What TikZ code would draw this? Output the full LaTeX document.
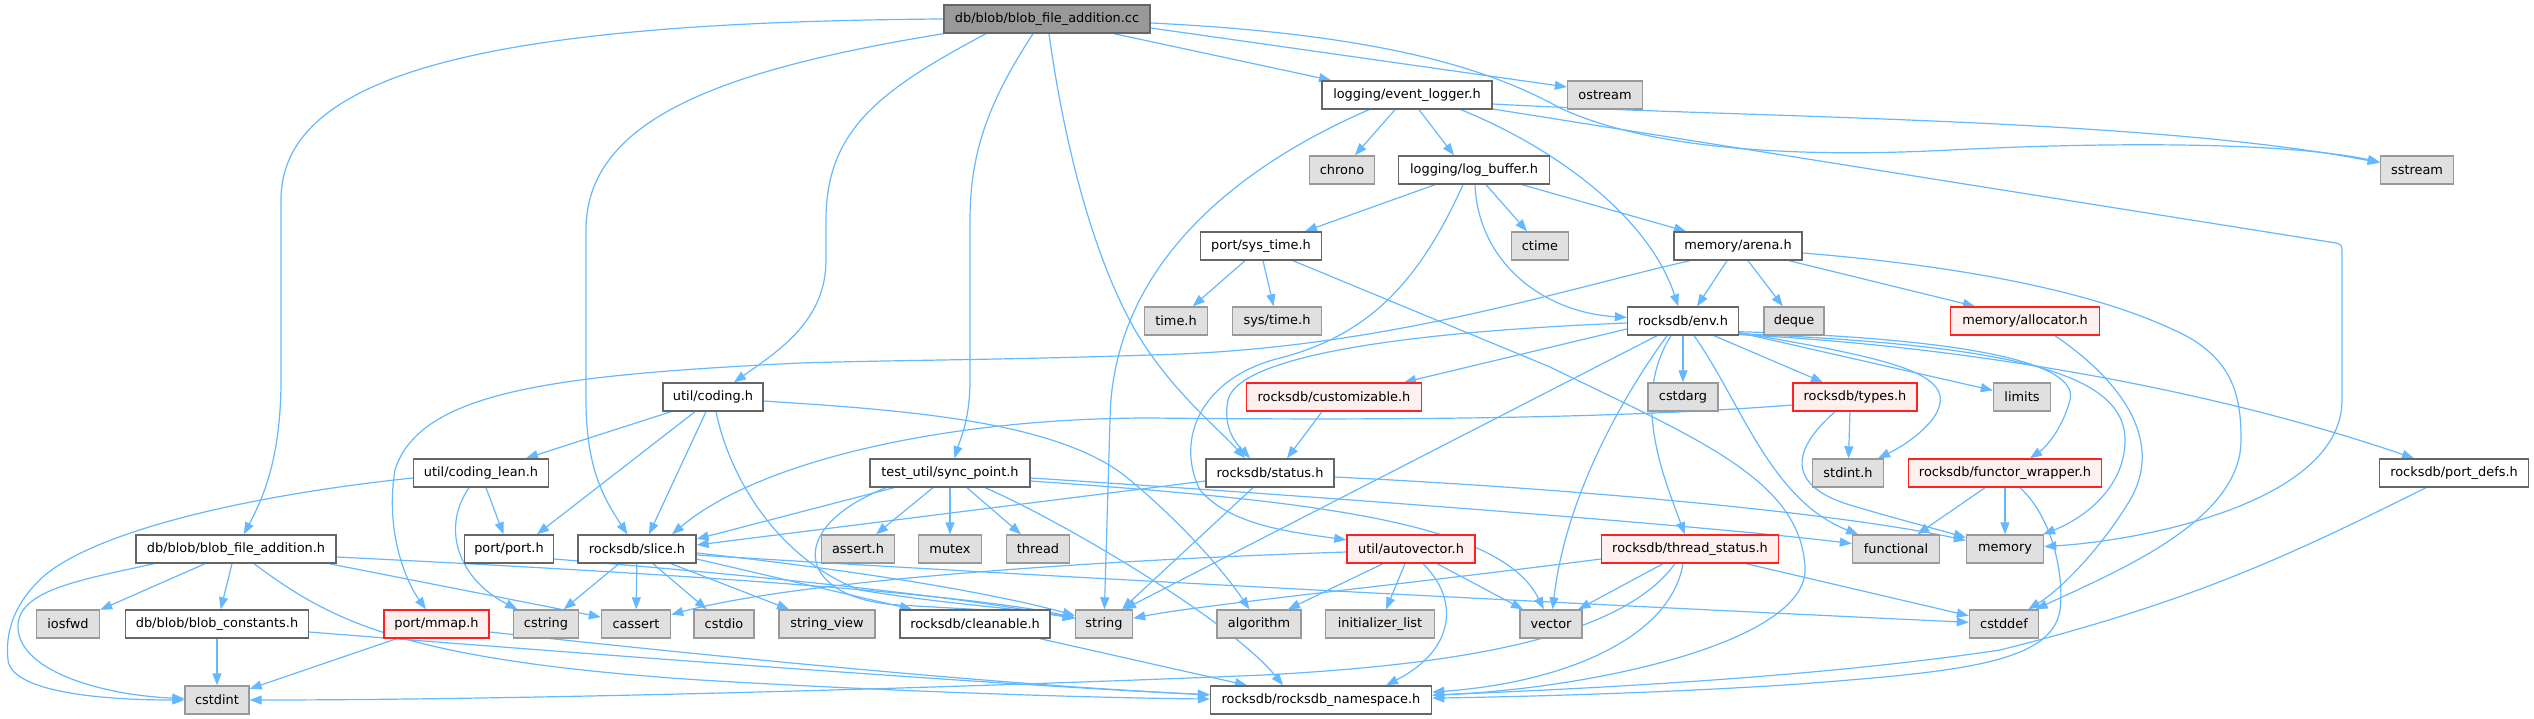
\documentclass[tikz,border=0pt]{standalone}
\usepackage{fontspec}
\setmainfont{DejaVu Sans}
\usetikzlibrary{arrows.meta,calc,backgrounds}
\definecolor{edgec}{HTML}{63B8FF}
\definecolor{gfill}{HTML}{E0E0E0}
\definecolor{gdraw}{HTML}{999999}
\definecolor{wdraw}{HTML}{666666}
\definecolor{rfill}{HTML}{FFF0F0}
\definecolor{rdraw}{HTML}{FF2020}
\definecolor{rootfill}{HTML}{999999}
\tikzset{
  base/.style={draw, line width=1.4pt, minimum height=28pt, inner sep=0pt, font=\fontsize{12.9}{15}\selectfont},
  wn/.style={base, fill=white, draw=wdraw},
  gn/.style={base, fill=gfill, draw=gdraw},
  rn/.style={base, fill=rfill, draw=rdraw},
  rootn/.style={base, fill=rootfill, draw=wdraw},
  e/.style={draw=edgec, line width=1.2pt, -{Triangle[length=12pt,width=9pt]}},
}
\begin{document}
\begin{tikzpicture}[x=1pt,y=-1pt]
\useasboundingbox (0,0) rectangle (2534,719);
% nodes
\node[rootn, minimum width=206pt] (root) at (1047,19) {db/blob/blob\_file\_addition.cc};
\node[wn, minimum width=170pt] (evl) at (1407,95) {logging/event\_logger.h};
\node[gn, minimum width=75pt] (ostream) at (1605,95) {ostream};
\node[gn, minimum width=65pt] (chrono) at (1342,170) {chrono};
\node[wn, minimum width=151pt] (logbuf) at (1474,170) {logging/log\_buffer.h};
\node[gn, minimum width=73pt] (sstream) at (2417,170) {sstream};
\node[wn, minimum width=121pt] (systime) at (1261,246) {port/sys\_time.h};
\node[gn, minimum width=57pt] (ctime) at (1540,246) {ctime};
\node[wn, minimum width=128pt] (arena) at (1738,246) {memory/arena.h};
\node[gn, minimum width=63pt] (timeh) at (1176,321) {time.h};
\node[gn, minimum width=89pt] (systimeh) at (1277,321) {sys/time.h};
\node[wn, minimum width=111pt] (env) at (1683,321) {rocksdb/env.h};
\node[gn, minimum width=60pt] (deque) at (1794,321) {deque};
\node[rn, minimum width=149pt] (alloc) at (2025,321) {memory/allocator.h};
\node[wn, minimum width=100pt] (coding) at (713,397) {util/coding.h};
\node[rn, minimum width=175pt] (custom) at (1334,397) {rocksdb/customizable.h};
\node[gn, minimum width=70pt] (cstdarg) at (1683,397) {cstdarg};
\node[rn, minimum width=124pt] (types) at (1855,397) {rocksdb/types.h};
\node[gn, minimum width=57pt] (limits) at (2022,397) {limits};
\node[wn, minimum width=135pt] (codlean) at (481,473) {util/coding\_lean.h};
\node[wn, minimum width=160pt] (sync) at (950,473) {test\_util/sync\_point.h};
\node[wn, minimum width=128pt] (status) at (1270,473) {rocksdb/status.h};
\node[gn, minimum width=71pt] (stdint) at (1848,473) {stdint.h};
\node[rn, minimum width=193pt] (functor) at (2005,473) {rocksdb/functor\_wrapper.h};
\node[wn, minimum width=149pt] (portdefs) at (2454,473) {rocksdb/port\_defs.h};
\node[wn, minimum width=200pt] (blobh) at (236,549) {db/blob/blob\_file\_addition.h};
\node[wn, minimum width=89pt] (portport) at (509,549) {port/port.h};
\node[wn, minimum width=118pt] (slice) at (637,549) {rocksdb/slice.h};
\node[gn, minimum width=73pt] (asserth) at (858,549) {assert.h};
\node[gn, minimum width=63pt] (mutex) at (950,549) {mutex};
\node[gn, minimum width=63pt] (thread) at (1038,549) {thread};
\node[rn, minimum width=128pt] (autovec) at (1411,549) {util/autovector.h};
\node[rn, minimum width=177pt] (thstat) at (1690,549) {rocksdb/thread\_status.h};
\node[gn, minimum width=87pt] (functional) at (1896,549) {functional};
\node[gn, minimum width=77pt] (memory) at (2005,549) {memory};
\node[gn, minimum width=63pt] (iosfwd) at (68,624) {iosfwd};
\node[wn, minimum width=183pt] (blobconst) at (217,624) {db/blob/blob\_constants.h};
\node[rn, minimum width=105pt] (mmap) at (436.5,624) {port/mmap.h};
\node[gn, minimum width=65pt] (cstring) at (546,624) {cstring};
\node[gn, minimum width=69pt] (cassert) at (636,624) {cassert};
\node[gn, minimum width=60pt] (cstdio) at (724,624) {cstdio};
\node[gn, minimum width=96pt] (strview) at (827,624) {string\_view};
\node[wn, minimum width=150pt] (cleanable) at (975,624) {rocksdb/cleanable.h};
\node[gn, minimum width=57pt] (string) at (1104,624) {string};
\node[gn, minimum width=84pt] (algorithm) at (1259,624) {algorithm};
\node[gn, minimum width=109pt] (initlist) at (1380,624) {initializer\_list};
\node[gn, minimum width=62pt] (vector) at (1551,624) {vector};
\node[gn, minimum width=69pt] (cstddef) at (2004,624) {cstddef};
\node[gn, minimum width=64pt] (cstdint) at (217,700) {cstdint};
\node[wn, minimum width=221pt] (ns) at (1321,700) {rocksdb/rocksdb\_namespace.h};
\begin{pgfonlayer}{background}
% root
\draw[e] (root.west) .. controls (500,22) and (281,70) .. (281,200) -- (281,380) .. controls (281,460) and (262,500) .. (blobh);
\draw[e] (root.south west) .. controls (720,70) and (586,120) .. (586,230) -- (586,400) .. controls (586,470) and (605,500) .. (slice);
\draw[e] ([xshift=-61]root.south) .. controls (880,90) and (826,130) .. (826,220) -- (826,260) .. controls (826,320) and (780,350) .. (coding);
\draw[e] ([xshift=-14]root.south) .. controls (990,100) and (970,150) .. (970,220) -- (970,380) .. controls (970,420) and (960,440) .. (sync);
\draw[e] ([xshift=2]root.south) .. controls (1065,150) and (1095,260) .. (1135,330) .. controls (1170,390) and (1220,430) .. ([xshift=-25]status.north);
\draw[e] ([xshift=67]root.south) -- ([xshift=-76]evl.north);
\draw[e] ([yshift=-9]root.east) -- ([yshift=8]ostream.west);
\draw[e] ([yshift=-4]root.east) .. controls (1400,35) and (1500,75) .. (1560,108) .. controls (1650,150) and (1800,158) .. (1950,150) .. controls (2150,140) and (2300,145) .. (sstream);
% event logger
\draw[e] ([xshift=-12]evl.south) -- (chrono);
\draw[e] ([xshift=12]evl.south) -- ([xshift=-20]logbuf.north);
\draw[e] ([xshift=-38]evl.south) .. controls (1230,170) and (1112,270) .. (1110,420) -- (string);
\draw[e] ([xshift=54]evl.south) .. controls (1560,150) and (1650,220) .. (env);
\draw[e] ([yshift=-9]evl.east) .. controls (1750,118) and (2150,118) .. (sstream);
\draw[e] ([yshift=-14]evl.east) -- (2336,243) .. controls (2342,245) .. (2342,255) -- (2342,400) .. controls (2342,500) and (2150,540) .. (memory);
% log buffer
\draw[e] ([xshift=-39]logbuf.south) -- ([xshift=44]systime.north);
\draw[e] ([xshift=-11]logbuf.south) .. controls (1420,280) and (1370,335) .. (1280,358) .. controls (1200,378) and (1175,440) .. (1200,490) .. controls (1230,525) and (1290,532) .. (autovec);
\draw[e] ([xshift=1]logbuf.south) .. controls (1478,260) and (1540,312) .. (env);
\draw[e] ([xshift=12]logbuf.south) -- (ctime);
\draw[e] ([xshift=48]logbuf.south) -- ([xshift=-52]arena.north);
% sys_time
\draw[e] ([xshift=-16]systime.south) -- (timeh);
\draw[e] ([xshift=2]systime.south) -- (systimeh);
\draw[e] ([xshift=32]systime.south) -- (1550,367) .. controls (1700,440) and (1800,480) .. (1805,567) .. controls (1810,640) and (1600,688) .. (ns);
% arena
\draw[e] ([xshift=-11]arena.south) -- ([xshift=14]env.north);
\draw[e] ([xshift=10]arena.south) -- (deque);
\draw[e] ([xshift=51]arena.south) -- ([xshift=-50]alloc.north);
\draw[e] ([yshift=-7]arena.east) .. controls (1950,265) and (2100,290) .. (2190,338) .. controls (2235,365) and (2241,400) .. (2241,440) .. controls (2241,520) and (2120,570) .. (cstddef);
\draw[e] ([xshift=-48]arena.south) .. controls (1560,290) and (1380,350) .. (1150,355) .. controls (1000,360) and (900,360) .. (800,363) .. controls (560,375) and (420,390) .. (395,470) .. controls (385,530) and (405,580) .. (mmap);
% env
\draw[e] ([yshift=-8]env.west) -- ([xshift=70]custom.north);
\draw[e] ([yshift=-2]env.west) .. controls (1450,330) and (1240,350) .. (1228,400) .. controls (1222,430) and (1238,445) .. ([xshift=-20]status.north);
\draw[e] ([xshift=-26]env.south) -- ([xshift=20]string.north);
\draw[e] ([xshift=-16]env.south) .. controls (1620,400) and (1565,500) .. (vector);
\draw[e] ([xshift=-12]env.south) .. controls (1630,400) and (1665,480) .. (thstat);
\draw[e] (env) -- (cstdarg);
\draw[e] ([xshift=11]env.south) .. controls (1740,400) and (1770,500) .. (functional);
\draw[e] ([xshift=31]env.south) -- ([xshift=-32]types.north);
\draw[e] ([yshift=3]env.south east) -- (limits);
\draw[e] ([yshift=3]env.south east) .. controls (1900,360) and (1965,375) .. (1932,420) .. controls (1915,440) and (1895,450) .. (stdint);
\draw[e] ([yshift=4]env.south east) .. controls (1950,338) and (2080,360) .. (2070,400) .. controls (2062,430) and (2045,448) .. ([xshift=25]functor.north);
\draw[e] ([yshift=2]env.south east) .. controls (2000,345) and (2125,370) .. (2125,440) .. controls (2125,490) and (2080,520) .. (memory);
\draw[e] ([yshift=1]env.south east) .. controls (1950,345) and (2200,385) .. ([xshift=-40]portdefs.north);
% allocator, customizable
\draw[e] ([xshift=30]alloc.south) .. controls (2120,380) and (2165,440) .. (2130,500) .. controls (2100,550) and (2060,590) .. (cstddef);
\draw[e] ([xshift=-12]custom.south) -- ([xshift=17]status.north);
% types
\draw[e] ([yshift=-8]types.west) .. controls (1600,420) and (1350,420) .. (1150,418) .. controls (950,418) and (760,460) .. ([xshift=35]slice.north);
\draw[e] ([xshift=-5]types.south) -- (stdint);
\draw[e] ([xshift=-20]types.south) .. controls (1780,460) and (1800,490) .. (1850,505) .. controls (1900,520) and (1940,530) .. (memory);
% functor wrapper
\draw[e] ([xshift=-20]functor.south) -- (functional);
\draw[e] (functor) -- (memory);
\draw[e] ([xshift=15]functor.south) .. controls (2055,520) and (2064,580) .. (2060,610) .. controls (2052,665) and (1950,672) .. (1800,684) .. controls (1650,694) and (1500,697) .. (ns);
% port_defs
\draw[e] ([xshift=-28]portdefs.south) .. controls (2300,550) and (2200,600) .. (2000,650) .. controls (1800,680) and (1550,690) .. (ns);
% status
\draw[e] ([yshift=-8]status.west) -- ([yshift=4]slice.east);
\draw[e] ([xshift=-17]status.south) -- ([xshift=18]string.north);
\draw[e] ([yshift=-4]status.east) .. controls (1600,490) and (1850,515) .. (memory);
% sync point
\draw[e] ([xshift=-56]sync.south) -- ([yshift=10]slice.east);
\draw[e] ([xshift=-17]sync.south) -- (asserth);
\draw[e] (sync) -- (mutex);
\draw[e] ([xshift=17]sync.south) -- (thread);
\draw[e] ([xshift=-64]sync.south) .. controls (780,530) and (800,600) .. (900,605) .. controls (980,610) and (1040,612) .. (string);
\draw[e] ([yshift=-5]sync.east) .. controls (1300,495) and (1700,525) .. (functional);
\draw[e] ([yshift=-8]sync.east) .. controls (1300,500) and (1500,520) .. (vector);
\draw[e] ([xshift=35]sync.south) .. controls (1060,520) and (1230,620) .. ([xshift=-38]ns.north);
% slice
\draw[e] ([xshift=-18]slice.south) -- (cstring);
\draw[e] (slice) -- (cassert);
\draw[e] ([xshift=16]slice.south) -- (cstdio);
\draw[e] ([xshift=34]slice.south) -- (strview);
\draw[e] ([yshift=-10]slice.east) -- (cleanable);
\draw[e] ([yshift=-4]slice.east) .. controls (900,575) and (1020,600) .. (string);
\draw[e] ([yshift=-6]slice.east) .. controls (1100,580) and (1600,605) .. (cstddef);
% cleanable
\draw[e] ([xshift=65]cleanable.south) -- ([xshift=-74]ns.north);
% autovector
\draw[e] ([yshift=-3]autovec.west) .. controls (1100,560) and (800,580) .. (cassert);
\draw[e] ([xshift=-28]autovec.south) -- ([xshift=29]algorithm.north);
\draw[e] ([xshift=-6]autovec.south) -- (initlist);
\draw[e] ([xshift=26]autovec.south) -- ([xshift=-28]vector.north);
\draw[e] ([xshift=12]autovec.south) .. controls (1460,600) and (1455,650) .. ([xshift=65]ns.north);
% thread status
\draw[e] ([yshift=-10]thstat.west) .. controls (1400,585) and (1200,605) .. (string);
\draw[e] ([xshift=-27]thstat.south) -- (vector);
\draw[e] ([xshift=56]thstat.south) -- (cstddef);
\draw[e] ([xshift=-7]thstat.south) .. controls (1670,640) and (1560,683) .. (ns);
\draw[e] ([xshift=-15]thstat.south) .. controls (1620,640) and (1450,665) .. (1264,675) .. controls (900,690) and (500,700) .. (cstdint);
% blob_file_addition.h
\draw[e] ([xshift=-82]blobh.south) .. controls (80,580) and (20,590) .. (18,625) .. controls (16,670) and (100,695) .. (cstdint);
\draw[e] ([xshift=-31]blobh.south) -- (iosfwd);
\draw[e] ([xshift=-4]blobh.south) -- (blobconst);
\draw[e] ([xshift=18]blobh.south) .. controls (330,620) and (400,660) .. (700,680) .. controls (900,692) and (1100,698) .. (ns);
\draw[e] ([xshift=93]blobh.south) -- (cassert);
\draw[e] ([yshift=-8]blobh.east) .. controls (600,570) and (950,590) .. (string);
% coding_lean
\draw[e] ([yshift=-5]codlean.west) .. controls (250,495) and (100,530) .. (45,575) .. controls (8,608) and (6,640) .. (8,660) .. controls (12,692) and (100,700) .. (cstdint);
\draw[e] ([xshift=-12]codlean.south) .. controls (440,530) and (460,580) .. (cstring);
\draw[e] ([xshift=5]codlean.south) -- (portport);
% coding
\draw[e] ([xshift=-42]coding.south) -- ([xshift=45]codlean.north);
\draw[e] ([xshift=-18]coding.south) -- ([xshift=28]portport.north);
\draw[e] ([xshift=-7]coding.south) -- ([xshift=12]slice.north);
\draw[e] ([xshift=3]coding.south) .. controls (730,480) and (780,560) .. (860,590) .. controls (950,605) and (1020,608) .. (string);
\draw[e] ([yshift=-4]coding.east) .. controls (900,410) and (1060,420) .. (1130,480) .. controls (1190,530) and (1230,580) .. (algorithm);
% blob_constants, mmap, port
\draw[e] (blobconst) -- (cstdint);
\draw[e] ([yshift=-8]blobconst.east) .. controls (600,655) and (1000,685) .. (ns);
\draw[e] ([xshift=-40]mmap.south) -- (cstdint);
\draw[e] ([yshift=-8]mmap.east) .. controls (700,655) and (1000,685) .. (ns);
\draw[e] ([yshift=-10]portport.east) .. controls (750,575) and (950,595) .. (string);
\end{pgfonlayer}
\end{tikzpicture}
\end{document}
